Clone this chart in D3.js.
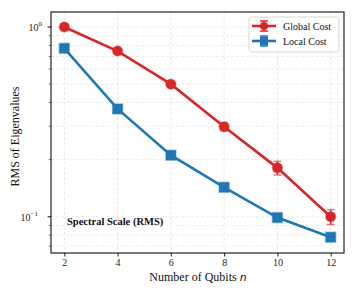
<!DOCTYPE html>
<html><head><meta charset="utf-8">
<script src="https://cdn.jsdelivr.net/npm/d3@7"></script>
<style>body{margin:0;background:#fff}svg{display:block}
svg text{font-family:'Liberation Serif','Times New Roman',serif}</style>
</head><body>
<script>
const qubits = [2, 4, 6, 8, 10, 12];
const globalCost = [1.0, 0.747, 0.50, 0.298, 0.181, 0.100];
const globalErr = [0.04, 0.02, 0.015, 0.014, 0.015, 0.009];
const localCost = [0.772, 0.37, 0.211, 0.143, 0.099, 0.078];
const localErr = [0.02, 0.01, 0.005, 0.004, 0.003, 0.002];
const xTicks = [2, 4, 6, 8, 10, 12];
const seriesNames = ["Global Cost", "Local Cost"];

const W = 357, H = 297;
const m = {l: 51, t: 12, r: 344, b: 253};
const svg = d3.select("body").append("svg").attr("width", W).attr("height", H);
const x = d3.scaleLinear().domain([1.5, 12.5]).range([m.l, m.r]);
const y = d3.scaleLog().domain([0.0644, 1.2]).range([m.b, m.t]);
const serif = "'Liberation Serif', 'Times New Roman', serif";

// grid
const minorVals = [];
for (const d of [0.01, 0.1, 1]) for (let k = 1; k < 10; k++) minorVals.push(d * k);
const yGridVals = minorVals.filter(v => v >= 0.0644 && v <= 1.2);
const g = svg.append("g");
g.selectAll("line.gx").data(xTicks).join("line")
  .attr("x1", d => x(d)).attr("x2", d => x(d)).attr("y1", m.t).attr("y2", m.b)
  .attr("stroke", "#ddd").attr("stroke-width", 0.7).attr("stroke-dasharray", "3,2");
g.selectAll("line.gy").data(yGridVals).join("line")
  .attr("x1", m.l).attr("x2", m.r).attr("y1", d => y(d)).attr("y2", d => y(d))
  .attr("stroke", "#e4e4e4").attr("stroke-width", 0.7).attr("stroke-dasharray", "3,2");

// series
const series = [
  {name: seriesNames[0], vals: globalCost, err: globalErr, color: "#d62728", shape: "circle"},
  {name: seriesNames[1], vals: localCost, err: localErr, color: "#1f77b4", shape: "square"}
];
const line = d3.line().x(d => x(d[0])).y(d => y(d[1]));
series.forEach(s => {
  const pts = qubits.map((q, i) => [q, s.vals[i], s.err[i]]);
  const sg = svg.append("g");
  sg.append("path").datum(pts).attr("d", line).attr("fill", "none")
    .attr("stroke", s.color).attr("stroke-width", 2.6);
  pts.forEach(p => {
    const y1 = y(p[1] - p[2]), y2 = y(p[1] + p[2]);
    sg.append("line").attr("x1", x(p[0])).attr("x2", x(p[0])).attr("y1", y1).attr("y2", y2)
      .attr("stroke", s.color).attr("stroke-width", 1.5);
    [y1, y2].forEach(yy => sg.append("line").attr("x1", x(p[0]) - 4).attr("x2", x(p[0]) + 4)
      .attr("y1", yy).attr("y2", yy).attr("stroke", s.color).attr("stroke-width", 1.5).attr("opacity", 0.6));
  });
  pts.forEach(p => {
    if (s.shape === "circle") {
      sg.append("circle").attr("cx", x(p[0])).attr("cy", y(p[1])).attr("r", 5)
        .attr("fill", s.color).attr("stroke", s.color).attr("stroke-opacity", 0.4).attr("stroke-width", 1.5);
    } else {
      sg.append("rect").attr("x", x(p[0]) - 5).attr("y", y(p[1]) - 5).attr("width", 10).attr("height", 10)
        .attr("fill", s.color).attr("stroke", s.color).attr("stroke-opacity", 0.4).attr("stroke-width", 1.5);
    }
  });
});

// frame
svg.append("rect").attr("x", m.l).attr("y", m.t).attr("width", m.r - m.l).attr("height", m.b - m.t)
  .attr("fill", "none").attr("stroke", "#222").attr("stroke-width", 1.2);

// x axis
const xa = svg.append("g").attr("transform", `translate(0,${m.b})`)
  .call(d3.axisBottom(x).tickValues(xTicks).tickSize(3.5).tickPadding(2.5));
xa.attr("font-family", serif);
xa.select(".domain").remove();
xa.selectAll("text").attr("font-size", 10).attr("fill", "#222");
xa.selectAll("line").attr("stroke", "#222");

// y axis
const ya = svg.append("g").attr("transform", `translate(${m.l},0)`);
ya.selectAll("line.minor").data(yGridVals).join("line")
  .attr("x1", 0).attr("x2", -2.2).attr("y1", d => y(d)).attr("y2", d => y(d))
  .attr("stroke", "#222").attr("stroke-width", 0.7);
const majors = [{v: 1, e: "0"}, {v: 0.1, e: "−1"}];
majors.forEach(mj => {
  ya.append("line").attr("x1", 0).attr("x2", -3.5).attr("y1", y(mj.v)).attr("y2", y(mj.v))
    .attr("stroke", "#222").attr("stroke-width", 0.9);
  const t = ya.append("text").attr("x", mj.e === "0" ? -9 : -13).attr("y", y(mj.v) + 4)
    .attr("text-anchor", "end").attr("font-size", 10).attr("fill", "#222");
  t.append("tspan").text("10");
  t.append("tspan").attr("dy", -5).attr("font-size", 7).text(mj.e);
});

// labels
svg.append("text").attr("x", 198).attr("y", 281).attr("text-anchor", "middle")
  .attr("font-size", 12).attr("fill", "#111")
  .html('Number of Qubits <tspan style="font-family:\'DejaVu Sans\'" font-style="italic" font-size="11">n</tspan>');
svg.append("text").attr("transform", `translate(19,${(m.t + m.b) / 2 + 4}) rotate(-90)`)
  .attr("text-anchor", "middle").attr("font-size", 12).attr("fill", "#111")
  .text("RMS of Eigenvalues");
svg.append("text").attr("x", 67).attr("y", 225)
  .attr("font-weight", "bold").attr("font-size", 10.5).attr("fill", "#111").text("Spectral Scale (RMS)");

// legend
const lg = svg.append("g");
lg.append("rect").attr("x", 249).attr("y", 17).attr("width", 90).attr("height", 35).attr("rx", 2.5)
  .attr("fill", "#fff").attr("fill-opacity", 0.85).attr("stroke", "#ccc").attr("stroke-width", 0.8);
series.forEach((s, i) => {
  const cy = 26 + i * 15;
  lg.append("line").attr("x1", 252).attr("x2", 276).attr("y1", cy).attr("y2", cy)
    .attr("stroke", s.color).attr("stroke-width", 2.6);
  lg.append("line").attr("x1", 264).attr("x2", 264).attr("y1", cy - 5).attr("y2", cy + 5)
    .attr("stroke", s.color).attr("stroke-width", 1.5);
  [cy - 5, cy + 5].forEach(yy => lg.append("line").attr("x1", 260).attr("x2", 268).attr("y1", yy).attr("y2", yy)
    .attr("stroke", s.color).attr("stroke-width", 1.5));
  if (s.shape === "circle") lg.append("circle").attr("cx", 264).attr("cy", cy).attr("r", 4).attr("fill", s.color);
  else lg.append("rect").attr("x", 260).attr("y", cy - 4).attr("width", 8).attr("height", 8).attr("fill", s.color);
  lg.append("text").attr("x", 283).attr("y", cy + 3.5).attr("font-size", 10)
    .attr("fill", "#111").text(s.name);
});
</script>
</body></html>
